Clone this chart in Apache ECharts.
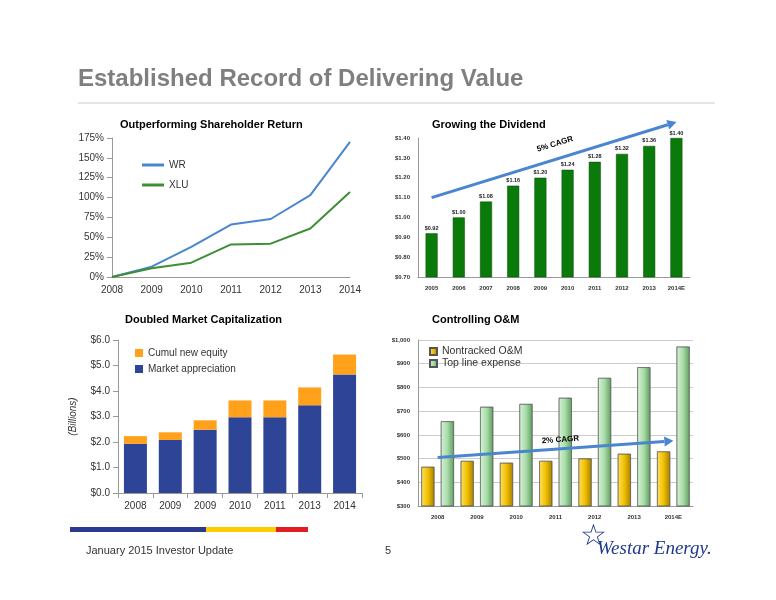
<!DOCTYPE html>
<html><head><meta charset="utf-8">
<script src="https://cdn.jsdelivr.net/npm/echarts@6/dist/echarts.min.js"></script>
<style>html,body{margin:0;padding:0;background:#fff}#c{width:776px;height:600px}</style>
</head><body><div id="c"></div>
<script>
const tsrYears = ['2008','2009','2010','2011','2012','2013','2014'];
const wr = [0, 13, 38, 66, 73, 103, 170];
const xlu = [0, 11, 18, 41, 42, 61, 107];

const divYears = ['2005','2006','2007','2008','2009','2010','2011','2012','2013','2014E'];
const dividends = [0.92, 1.00, 1.08, 1.16, 1.20, 1.24, 1.28, 1.32, 1.36, 1.40];

const capYears = ['2008','2009','2009','2010','2011','2013','2014'];
const marketApp = [1.93, 2.08, 2.48, 2.97, 2.97, 3.44, 4.65];
const newEquity = [0.30, 0.30, 0.37, 0.66, 0.66, 0.70, 0.78];

const omYears = ['2008','2009','2010','2011','2012','2013','2014E'];
const nontracked = [465, 490, 482, 490, 500, 520, 530];
const topLine = [657, 718, 730, 756, 840, 885, 972];

const chart = echarts.init(document.getElementById('c'));
const F = 'Arial, "Liberation Sans", sans-serif';
const axLine = {lineStyle:{color:'#999'}};
const smallLab = {fontFamily:F, fontSize:6, fontWeight:'bold', color:'#333'};
const midLab = {fontFamily:F, fontSize:10, color:'#333'};
const greenGrad = new echarts.graphic.LinearGradient(0,0,1,0,[{offset:0,color:'#d8f2d8'},{offset:0.5,color:'#a8dca8'},{offset:1,color:'#5f9e5f'}]);
const goldGrad = new echarts.graphic.LinearGradient(0,0,1,0,[{offset:0,color:'#ffe060'},{offset:0.5,color:'#f0c000'},{offset:1,color:'#a88000'}]);

chart.setOption({
  animation:false,
  grid:[
    {left:112, top:138, width:238, height:139},
    {left:418, top:138, width:272, height:139},
    {left:118, top:340, width:244, height:153},
    {left:418, top:340, width:275, height:166}
  ],
  xAxis:[
    {gridIndex:0, type:'category', data:tsrYears, boundaryGap:false, axisLine:axLine, axisTick:{show:false}, axisLabel:midLab},
    {gridIndex:1, type:'category', data:divYears, axisLine:axLine, axisTick:{show:false}, axisLabel:smallLab},
    {gridIndex:2, type:'category', data:capYears, axisLine:axLine, axisTick:{show:true}, axisLabel:midLab},
    {gridIndex:3, type:'category', data:omYears, axisLine:axLine, axisTick:{show:false}, axisLabel:smallLab}
  ],
  yAxis:[
    {gridIndex:0, min:0, max:175, interval:25, axisLine:{show:true,lineStyle:{color:'#999'}}, axisTick:{show:true}, splitLine:{show:false}, axisLabel:Object.assign({formatter:'{value}%'},midLab)},
    {gridIndex:1, min:0.7, max:1.4, interval:0.1, axisLine:{show:true,lineStyle:{color:'#999'}}, splitLine:{show:false}, axisLabel:Object.assign({formatter:v=>'$'+v.toFixed(2)},smallLab)},
    {gridIndex:2, min:0, max:6, interval:1, name:'(Billions)', nameLocation:'middle', nameGap:40, nameTextStyle:{fontFamily:F,fontSize:10,fontStyle:'italic',color:'#333'}, axisLine:{show:true,lineStyle:{color:'#999'}}, axisTick:{show:true}, splitLine:{show:false}, axisLabel:Object.assign({formatter:v=>'$'+v.toFixed(1)},midLab)},
    {gridIndex:3, min:300, max:1000, interval:100, axisLine:{show:true,lineStyle:{color:'#999'}}, splitLine:{show:true,lineStyle:{color:'#ccc'}}, axisLabel:Object.assign({formatter:v=>'$'+(v>=1000?'1,000':v)},smallLab)}
  ],
  legend:[
    {data:['WR','XLU'], orient:'vertical', left:137, top:155, itemGap:10, itemWidth:22, itemHeight:3, icon:'rect', textStyle:{fontFamily:F,fontSize:10,color:'#333'}},
    {data:['Cumul new equity','Market appreciation'], orient:'vertical', left:130, top:343, itemGap:6, itemWidth:8, itemHeight:8, icon:'rect', textStyle:{fontFamily:F,fontSize:10,color:'#333'}},
    {data:['Nontracked O&M','Top line expense'], orient:'vertical', left:424, top:341, itemGap:1, itemWidth:7, itemHeight:7, icon:'rect', textStyle:{fontFamily:F,fontSize:10.5,color:'#333'}}
  ],
  series:[
    {name:'WR', type:'line', xAxisIndex:0, yAxisIndex:0, data:wr, symbol:'none', lineStyle:{color:'#4a86d0',width:2}, itemStyle:{color:'#4a86d0'}},
    {name:'XLU', type:'line', xAxisIndex:0, yAxisIndex:0, data:xlu, symbol:'none', lineStyle:{color:'#3e8e34',width:2}, itemStyle:{color:'#3e8e34'}},
    {name:'Dividend', type:'bar', xAxisIndex:1, yAxisIndex:1, data:dividends, barWidth:12, itemStyle:{color:'#0a7a0a',borderColor:'#064d06',borderWidth:0.5},
      label:{show:true, position:'top', distance:2, formatter:p=>'$'+p.value.toFixed(2), fontFamily:F, fontSize:5.5, fontWeight:'bold', color:'#222'}},
    {name:'Market appreciation', type:'bar', stack:'cap', xAxisIndex:2, yAxisIndex:2, data:marketApp, barWidth:23, itemStyle:{color:'#2e4597'}},
    {name:'Cumul new equity', type:'bar', stack:'cap', xAxisIndex:2, yAxisIndex:2, data:newEquity, barWidth:23, itemStyle:{color:'#ffa11a'}},
    {name:'Nontracked O&M', type:'bar', xAxisIndex:3, yAxisIndex:3, data:nontracked, barWidth:13, barGap:'50%', itemStyle:{color:goldGrad,borderColor:'#555',borderWidth:0.5}},
    {name:'Top line expense', type:'bar', xAxisIndex:3, yAxisIndex:3, data:topLine, barWidth:13, itemStyle:{color:greenGrad,borderColor:'#555',borderWidth:0.5}}
  ]
});

const p = (g, pt) => chart.convertToPixel({gridIndex:g}, pt);
const a1 = p(1,[0,1.10]), a1e = p(1,[9,1.48]);
const a2 = p(3,[0,505]), a2e = p(3,[6,575]);
const arrowShape = (s,e,col,w) => {
  const ang = Math.atan2(e[1]-s[1], e[0]-s[0]), L=9, W=5;
  const bx = e[0]-L*Math.cos(ang), by = e[1]-L*Math.sin(ang);
  return [
    {type:'line', z:100, shape:{x1:s[0],y1:s[1],x2:bx,y2:by}, style:{stroke:col,lineWidth:w}},
    {type:'polygon', z:100, shape:{points:[e,[bx+W*Math.sin(ang),by-W*Math.cos(ang)],[bx-W*Math.sin(ang),by+W*Math.cos(ang)]]}, style:{fill:col}}
  ];
};
const ang1 = Math.atan2(a1e[1]-a1[1], a1e[0]-a1[0]);
const ang2 = Math.atan2(a2e[1]-a2[1], a2e[0]-a2[0]);
chart.setOption({graphic:[
  {type:'text', left:78, top:67, style:{text:'Established Record of Delivering Value', font:'bold 24px '+F, fill:'#7f7f7f'}},
  {type:'line', shape:{x1:78,y1:103,x2:715,y2:103}, style:{stroke:'#ccc',lineWidth:1}},
  {type:'text', left:120, top:119, style:{text:'Outperforming Shareholder Return', font:'bold 11px '+F, fill:'#000'}},
  {type:'text', left:432, top:119, style:{text:'Growing the Dividend', font:'bold 11px '+F, fill:'#000'}},
  {type:'text', left:125, top:314, style:{text:'Doubled Market Capitalization', font:'bold 11px '+F, fill:'#000'}},
  {type:'text', left:432, top:314, style:{text:'Controlling O&M', font:'bold 11px '+F, fill:'#000'}},
  ...arrowShape(a1,a1e,'#4a86d0',3),
  ...arrowShape(a2,a2e,'#4a86d0',3),
  {type:'text', z:101, x:(a1[0]+a1e[0])/2-18, y:(a1[1]+a1e[1])/2-14, rotation:-ang1, style:{text:'5% CAGR', font:'bold 8px '+F, fill:'#000'}},
  {type:'text', z:101, x:(a2[0]+a2e[0])/2-14, y:(a2[1]+a2e[1])/2-12, rotation:-ang2, style:{text:'2% CAGR', font:'bold 8px '+F, fill:'#000'}},
  {type:'rect', shape:{x:70,y:527,width:136,height:5}, style:{fill:'#2b3990'}},
  {type:'rect', shape:{x:206,y:527,width:70,height:5}, style:{fill:'#ffcc00'}},
  {type:'rect', shape:{x:276,y:527,width:32,height:5}, style:{fill:'#e31b23'}},
  {type:'text', left:86, top:545, style:{text:'January 2015 Investor Update', font:'11px '+F, fill:'#333'}},
  {type:'text', left:385, top:545, style:{text:'5', font:'11px '+F, fill:'#333'}},
  {type:'text', left:597, top:539, style:{text:'Westar Energy.', font:'italic 19px "Liberation Serif", serif', fill:'#1f3a8a'}},
  {type:'text', left:580, top:522, style:{text:'☆', font:'30px "DejaVu Sans"', fill:'#1f3a8a'}}
]});
</script></body></html>
